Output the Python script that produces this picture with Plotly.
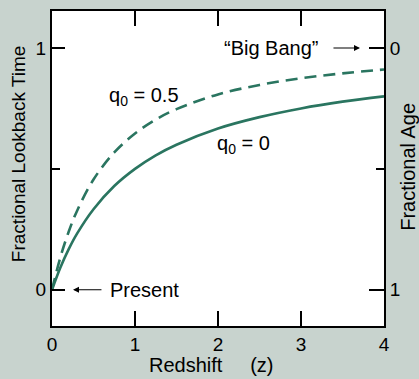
import plotly.graph_objects as go

# Data
redshift = [0, 0.1, 0.2, 0.3, 0.5, 0.75, 1, 1.25, 1.5, 2, 2.5, 3, 3.5, 4]
lookback_q0_0 = [0, 0.091, 0.167, 0.231, 0.333, 0.429, 0.5, 0.556, 0.6, 0.667, 0.714, 0.75, 0.778, 0.8]
lookback_q0_05 = [0, 0.133, 0.239, 0.325, 0.456, 0.568, 0.646, 0.704, 0.747, 0.808, 0.847, 0.875, 0.895, 0.911]

x_ticks = [0, 1, 2, 3, 4]
x_ticklabels = ["0", "1", "2", "3", "4"]
left_major = [0, 1]
left_major_labels = ["0", "1"]
right_major_labels = ["1", "0"]
minor_tick = [0.5]

LINE = "#2a7560"
BG = "#c8d3ce"
FAM = "Liberation Sans, Arial, Helvetica, sans-serif"
TICKFONT = dict(family=FAM, size=19, color="black")
FONT = dict(family=FAM, size=20, color="black")

fig = go.Figure()
fig.add_trace(go.Scatter(x=redshift, y=lookback_q0_05, mode="lines", line=dict(color=LINE, width=2.6, dash="12px,7px", shape="spline"), showlegend=False, hoverinfo="skip"))
fig.add_trace(go.Scatter(x=redshift, y=lookback_q0_0, mode="lines", line=dict(color=LINE, width=2.6, shape="spline"), showlegend=False, hoverinfo="skip"))
fig.add_trace(go.Scatter(x=[0], y=[0], yaxis="y2", mode="markers", marker=dict(opacity=0), showlegend=False, hoverinfo="skip"))
fig.add_trace(go.Scatter(x=[0], y=[0], yaxis="y3", mode="markers", marker=dict(opacity=0), showlegend=False, hoverinfo="skip"))
fig.add_trace(go.Scatter(x=[0], y=[0], yaxis="y4", mode="markers", marker=dict(opacity=0), showlegend=False, hoverinfo="skip"))

yr = [-0.15, 1.153]
common = dict(tickwidth=1.5, tickcolor="black", showgrid=False, zeroline=False, automargin=False, tickfont=TICKFONT)
fig.update_layout(
    width=419, height=379,
    margin=dict(l=52, r=35, t=11, b=53, autoexpand=False),
    paper_bgcolor=BG, plot_bgcolor="white",
    font=FONT,
    xaxis=dict(range=[0, 4], tickvals=x_ticks, ticktext=x_ticklabels, ticks="inside", ticklen=15,
               showline=True, linewidth=2, linecolor="black", mirror="ticks", **common),
    yaxis=dict(range=yr, tickvals=left_major, ticktext=left_major_labels, ticks="inside", ticklen=13,
               showline=True, linewidth=2, linecolor="black", **common),
    yaxis2=dict(range=yr, overlaying="y", side="right", tickvals=left_major, ticktext=right_major_labels,
                ticks="inside", ticklen=15, showline=True, linewidth=2, linecolor="black", **common),
    yaxis3=dict(range=yr, overlaying="y", side="left", tickvals=minor_tick, ticktext=[""], ticks="inside",
                ticklen=8, showline=False, **common),
    yaxis4=dict(range=yr, overlaying="y", side="right", tickvals=minor_tick, ticktext=[""], ticks="inside",
                ticklen=8, showline=False, **common),
)

ann = []
ann.append(dict(text="Fractional Lookback Time", xref="paper", yref="paper", x=-0.102, y=0.546,
                textangle=-90, showarrow=False, xanchor="center", yanchor="middle",
                font=dict(family=FAM, size=19, color="black")))
ann.append(dict(text="Fractional Age", xref="paper", yref="paper", x=1.072, y=0.505,
                textangle=-90, showarrow=False, xanchor="center", yanchor="middle", font=FONT))
ann.append(dict(text="Redshift&nbsp;&nbsp;&nbsp;&nbsp; (z)", xref="paper", yref="paper", x=0.48, y=-0.124,
                showarrow=False, xanchor="center", yanchor="middle", font=FONT))
ann.append(dict(text="q<sub>0</sub> = 0.5", x=0.663, y=0.80, showarrow=False, xanchor="left", yanchor="middle", font=FONT))
ann.append(dict(text="q<sub>0</sub> = 0", x=1.964, y=0.60, showarrow=False, xanchor="left", yanchor="middle", font=FONT))
ann.append(dict(text="\u201cBig Bang\u201d", x=3.24, y=1.0, showarrow=False, xanchor="right", yanchor="middle", font=FONT))
ann.append(dict(text="Present", x=0.675, y=0.0, showarrow=False, xanchor="left", yanchor="middle", font=FONT))
ann.append(dict(text="", x=3.711, y=1.0, ax=3.373, ay=1.0, axref="x", ayref="y", showarrow=True,
                arrowhead=2, arrowsize=1, arrowwidth=1.2, arrowcolor="black"))
ann.append(dict(text="", x=0.253, y=0.0, ax=0.614, ay=0.0, axref="x", ayref="y", showarrow=True,
                arrowhead=2, arrowsize=1, arrowwidth=1.2, arrowcolor="black"))
fig.update_layout(annotations=ann)

fig.write_html("out.html", config={"displayModeBar": False})
with open("out.html", "r", encoding="utf-8") as f:
    html = f.read()
html = html.replace("<head>", "<head><style>html,body{margin:0;padding:0;overflow:hidden;}</style>", 1)
with open("out.html", "w", encoding="utf-8") as f:
    f.write(html)
